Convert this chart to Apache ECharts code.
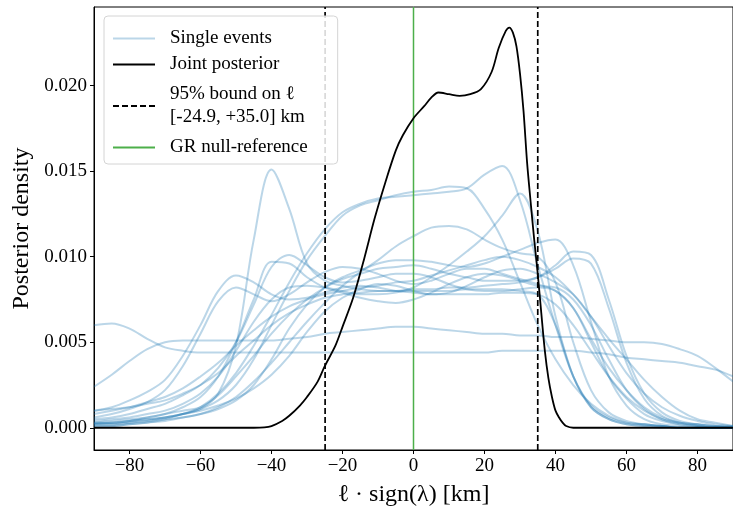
<!DOCTYPE html>
<html>
  <head>
    <meta charset="utf-8">
    <title>Posterior density</title>
    <style>
    html,body,#chart {
      margin: 0;
      padding: 0;
      width: 733px;
      height: 508px;
      background: #fff;
    }
    </style>
  </head>
  <body>
    <div id="chart"></div>
    <script src="https://cdn.jsdelivr.net/npm/echarts@6/dist/echarts.min.js"></script>
    <script type="text/javascript">
// x grid shared by every single-event curve (km)
var xGrid = [-90,-85,-80,-75,-70,-65,-60,-55,-50,-45,-40,-35,-30,-25,-20,-15,-10,-5,0,5,10,15,20,25,30,35,40,45,50,55,60,65,70,75,80,85,90];

// single-event posteriors
var evA = [0.0003,0.0003,0.0004,0.0005,0.0006,0.0008,0.0011,0.0020,0.0048,0.0110,0.0151,0.0128,0.0096,0.0086,0.0083,0.0081,0.0080,0.0080,0.0080,0.0080,0.0080,0.0081,0.0081,0.0081,0.0080,0.0078,0.0060,0.0030,0.0012,0.0005,0.0002,0.0001,0.0001,0,0,0,0];
var evB = [0.0060,0.0061,0.0058,0.0052,0.0047,0.0045,0.0044,0.0044,0.0044,0.0044,0.0044,0.0044,0.0044,0.0044,0.0044,0.0044,0.0044,0.0044,0.0044,0.0044,0.0044,0.0044,0.0044,0.0045,0.0045,0.0045,0.0045,0.0045,0.0044,0.0043,0.0041,0.0040,0.0039,0.0038,0.0036,0.0034,0.0030];
var evC = [0.0024,0.0031,0.0039,0.0046,0.0050,0.0051,0.0051,0.0051,0.0051,0.0051,0.0051,0.0052,0.0053,0.0055,0.0056,0.0057,0.0058,0.0059,0.0059,0.0058,0.0057,0.0056,0.0055,0.0055,0.0054,0.0054,0.0053,0.0053,0.0052,0.0051,0.0050,0.0050,0.0049,0.0046,0.0042,0.0035,0.0027];
var evD = [0.0002,0.0002,0.0003,0.0004,0.0006,0.0008,0.0012,0.0020,0.0032,0.0048,0.0066,0.0085,0.0102,0.0116,0.0126,0.0131,0.0134,0.0135,0.0136,0.0137,0.0138,0.0140,0.0148,0.0153,0.0133,0.0095,0.0060,0.0030,0.0013,0.0006,0.0003,0.0002,0.0001,0,0,0,0];
var evE = [0.0001,0.0001,0.0002,0.0003,0.0005,0.0008,0.0011,0.0016,0.0025,0.0040,0.0060,0.0080,0.0098,0.0112,0.0124,0.0130,0.0133,0.0136,0.0138,0.0139,0.0141,0.0140,0.0128,0.0110,0.0085,0.0060,0.0040,0.0025,0.0014,0.0007,0.0003,0.0002,0.0001,0,0,0,0];
var evF = [0.0004,0.0005,0.0006,0.0008,0.0010,0.0014,0.0020,0.0030,0.0045,0.0062,0.0075,0.0082,0.0083,0.0082,0.0080,0.0078,0.0078,0.0079,0.0082,0.0088,0.0095,0.0103,0.0112,0.0124,0.0137,0.0115,0.0065,0.0030,0.0012,0.0005,0.0002,0.0001,0,0,0,0,0];
var evG = [0.0010,0.0011,0.0012,0.0014,0.0016,0.0020,0.0025,0.0032,0.0042,0.0051,0.0060,0.0067,0.0072,0.0076,0.0078,0.0079,0.0080,0.0080,0.0081,0.0081,0.0082,0.0082,0.0083,0.0084,0.0085,0.0088,0.0095,0.0103,0.0101,0.0075,0.0042,0.0020,0.0009,0.0004,0.0002,0.0001,0.0001];
var evH = [0.0003,0.0004,0.0005,0.0006,0.0008,0.0010,0.0012,0.0019,0.0030,0.0042,0.0055,0.0066,0.0075,0.0082,0.0087,0.0090,0.0093,0.0094,0.0095,0.0093,0.0090,0.0088,0.0086,0.0086,0.0086,0.0088,0.0093,0.0099,0.0096,0.0070,0.0038,0.0017,0.0007,0.0003,0.0001,0,0];
var evI = [0.0001,0.0001,0.0002,0.0003,0.0004,0.0006,0.0008,0.0012,0.0018,0.0027,0.0038,0.0050,0.0062,0.0073,0.0083,0.0091,0.0098,0.0106,0.0112,0.0117,0.0118,0.0116,0.0110,0.0105,0.0102,0.0100,0.0085,0.0050,0.0022,0.0009,0.0004,0.0002,0.0001,0,0,0,0];
var evJ = [0.0002,0.0002,0.0003,0.0004,0.0005,0.0006,0.0008,0.0011,0.0016,0.0025,0.0040,0.0058,0.0072,0.0082,0.0088,0.0092,0.0096,0.0098,0.0098,0.0097,0.0095,0.0094,0.0096,0.0100,0.0104,0.0108,0.0110,0.0095,0.0062,0.0030,0.0013,0.0005,0.0002,0.0001,0,0,0];
var evK = [0.0010,0.0012,0.0016,0.0021,0.0028,0.0042,0.0060,0.0080,0.0089,0.0085,0.0078,0.0075,0.0076,0.0079,0.0082,0.0083,0.0082,0.0080,0.0079,0.0078,0.0078,0.0078,0.0078,0.0079,0.0079,0.0078,0.0072,0.0060,0.0045,0.0030,0.0018,0.0010,0.0005,0.0003,0.0002,0.0001,0];
var evL = [0.0006,0.0008,0.0011,0.0015,0.0022,0.0036,0.0055,0.0074,0.0082,0.0078,0.0074,0.0078,0.0085,0.0091,0.0094,0.0093,0.0090,0.0086,0.0084,0.0086,0.0090,0.0093,0.0093,0.0090,0.0087,0.0084,0.0080,0.0070,0.0052,0.0035,0.0022,0.0012,0.0006,0.0003,0.0002,0.0001,0];
var evM = [0.0005,0.0006,0.0008,0.0011,0.0014,0.0019,0.0025,0.0035,0.0050,0.0072,0.0094,0.0101,0.0095,0.0088,0.0085,0.0086,0.0088,0.0090,0.0090,0.0088,0.0084,0.0081,0.0080,0.0080,0.0081,0.0082,0.0080,0.0070,0.0050,0.0030,0.0017,0.0008,0.0004,0.0002,0.0001,0,0];
var evN = [0.0002,0.0003,0.0004,0.0006,0.0008,0.0012,0.0018,0.0030,0.0050,0.0075,0.0097,0.0096,0.0088,0.0082,0.0079,0.0076,0.0074,0.0073,0.0075,0.0079,0.0084,0.0088,0.0090,0.0089,0.0086,0.0083,0.0082,0.0075,0.0060,0.0040,0.0022,0.0011,0.0005,0.0002,0.0001,0,0];
var evO = [0.0003,0.0003,0.0004,0.0005,0.0006,0.0008,0.0010,0.0013,0.0017,0.0023,0.0031,0.0042,0.0056,0.0068,0.0076,0.0081,0.0084,0.0083,0.0080,0.0078,0.0079,0.0083,0.0088,0.0092,0.0093,0.0090,0.0085,0.0078,0.0065,0.0048,0.0032,0.0020,0.0012,0.0007,0.0004,0.0002,0.0001];
var evP = [0.0008,0.0010,0.0012,0.0015,0.0018,0.0023,0.0030,0.0038,0.0048,0.0057,0.0065,0.0071,0.0075,0.0078,0.0080,0.0082,0.0083,0.0085,0.0086,0.0089,0.0092,0.0095,0.0098,0.0100,0.0098,0.0094,0.0088,0.0078,0.0065,0.0052,0.0040,0.0028,0.0018,0.0010,0.0005,0.0003,0.0001];
var singleEvents = [evA,evB,evC,evD,evE,evF,evG,evH,evI,evJ,evK,evL,evM,evN,evO,evP];

// joint posterior
var jointX = [-90,-45,-42,-40,-37,-35,-32,-30,-27,-25,-22,-20,-17,-14,-11,-8,-5,-3,0,3,5,7,10,13,16,19,22,24,26,27,28,29,30,31,32,33,34,35,36,37,38,39,40,41,42,43,45,90];
var jointY = [0,0,0.00002,0.0001,0.0004,0.0007,0.0013,0.0018,0.0027,0.0036,0.0048,0.0059,0.0076,0.0098,0.0122,0.0143,0.0162,0.0171,0.0181,0.0188,0.0193,0.0196,0.0195,0.0194,0.0195,0.0198,0.0208,0.0222,0.0232,0.0234,0.0231,0.0223,0.0207,0.0185,0.0155,0.0132,0.0110,0.0090,0.0067,0.0045,0.0029,0.0018,0.0010,0.0006,0.0003,0.0001,0,0];

var bounds = [-24.9, 35.0];
var grRef = 0;
var xTicks = [-80,-60,-40,-20,0,20,40,60,80];
var yTicks = [0,0.005,0.010,0.015,0.020];
var yMin = -0.0013, yMax = 0.0246;

var boundName = '95% bound on \u2113\n[-24.9, +35.0] km';
var font = "'Liberation Serif', 'DejaVu Serif', serif";

var series = []
singleEvents.forEach(function (ys) {
    series.push({
        name: 'Single events',
        type: 'line',
        data: xGrid.map(function (x, i) { return [x, ys[i]]; }),
        smooth: 0.35,
        symbol: 'none',
        silent: true,
        itemStyle: { color: '#1f77b4' },
        lineStyle: { color: '#1f77b4', width: 2, opacity: 0.3 }
    });
});
bounds.forEach(function (b) {
    series.push({
        name: boundName,
        type: 'line',
        data: [[b, yMin], [b, yMax]],
        symbol: 'none',
        itemStyle: { color: '#000' },
        lineStyle: { color: '#000', width: 1.7, type: [6, 3] }
    });
});
series.push({
    name: 'GR null-reference',
    type: 'line',
    data: [[grRef, yMin], [grRef, yMax]],
    symbol: 'none',
    itemStyle: { color: '#4daf4a' },
    lineStyle: { color: '#4daf4a', width: 1.5 }
});
series.push({
    name: 'Joint posterior',
    type: 'line',
    data: jointX.map(function (x, i) { return [x, jointY[i]]; }),
    smooth: 0.3,
    symbol: 'none',
    itemStyle: { color: '#000' },
    lineStyle: { color: '#000', width: 1.8 },
    z: 5
});

var chart = echarts.init(document.getElementById('chart'));
chart.setOption({
    animation: false,
    grid: {
        left: 94, right: 0, top: 7, bottom: 58,
        containLabel: false, outerBoundsMode: 'none',
        show: true, borderColor: '#000', borderWidth: 1
    },
    legend: {
        orient: 'vertical',
        left: 104, top: 16,
        data: [
            'Single events',
            'Joint posterior',
            { name: boundName, textStyle: { padding: [4, 0, 4, 10] } },
            'GR null-reference'
        ],
        itemWidth: 42, itemHeight: 14, itemGap: 3,
        padding: [11, 30, 5, 8],
        backgroundColor: 'rgba(255,255,255,0.85)',
        borderColor: '#d4d4d4', borderWidth: 1, borderRadius: 4,
        selectedMode: false,
        itemStyle: { opacity: 0 },
        textStyle: { fontFamily: font, fontSize: 19, color: '#000', lineHeight: 23, padding: [0, 0, 0, 10] }
    },
    xAxis: {
        type: 'value', min: -90, max: 90,
        name: '\u2113 \u00b7 sign(\u03bb) [km]',
        nameLocation: 'middle', nameGap: 33,
        nameTextStyle: { fontFamily: font, fontSize: 24, color: '#000' },
        axisLine: { onZero: false, lineStyle: { color: '#000' } },
        axisTick: { show: true, length: 4, customValues: xTicks, lineStyle: { color: '#000' } },
        axisLabel: {
            customValues: xTicks, margin: 7,
            fontFamily: font, fontSize: 19, color: '#000',
            formatter: function (v) { return v < 0 ? '\u2212' + (-v) : String(v); }
        },
        splitLine: { show: false }
    },
    yAxis: {
        type: 'value', min: yMin, max: yMax,
        name: 'Posterior density',
        nameLocation: 'middle', nameGap: 60,
        nameTextStyle: { fontFamily: font, fontSize: 24, color: '#000' },
        axisLine: { show: true, onZero: false, lineStyle: { color: '#000' } },
        axisTick: { show: true, length: 4, customValues: yTicks, lineStyle: { color: '#000' } },
        axisLabel: {
            customValues: yTicks, margin: 7,
            fontFamily: font, fontSize: 19, color: '#000',
            formatter: function (v) { return v.toFixed(3); }
        },
        splitLine: { show: false }
    },
    series: series
});
</script>
  </body>
</html>
